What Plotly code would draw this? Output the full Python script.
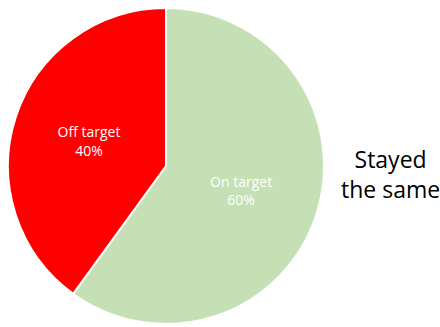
import plotly.graph_objects as go

categories = ["On target", "Off target"]
shares = [60, 40]
colors = ["#C5E0B4", "#FF0000"]
side_title = "Stayed<br>the same"

W, H = 440, 327
cx, cy, r = 166, 166, 158

fig = go.Figure(
    go.Pie(
        labels=categories,
        values=shares,
        sort=False,
        direction="clockwise",
        rotation=0,
        marker=dict(colors=colors, line=dict(color="white", width=2)),
        texttemplate="%{label}<br>%{percent:.0%}",
        textposition="inside",
        insidetextorientation="horizontal",
        textfont=dict(family="Open Sans", size=14, color="white"),
        hoverinfo="label+percent",
        domain=dict(
            x=[(cx - r) / W, (cx + r) / W],
            y=[(H - cy - r) / H, (H - cy + r) / H],
        ),
        showlegend=False,
    )
)

fig.add_annotation(
    text=side_title,
    x=390 / W,
    y=(H - 174) / H,
    xref="paper",
    yref="paper",
    xanchor="center",
    yanchor="middle",
    showarrow=False,
    font=dict(family="Open Sans", size=23, color="black"),
    align="center",
)

fig.update_layout(
    width=W,
    height=H,
    margin=dict(l=0, r=0, t=0, b=0),
    paper_bgcolor="white",
    plot_bgcolor="white",
)

fig.write_html("out.html")
